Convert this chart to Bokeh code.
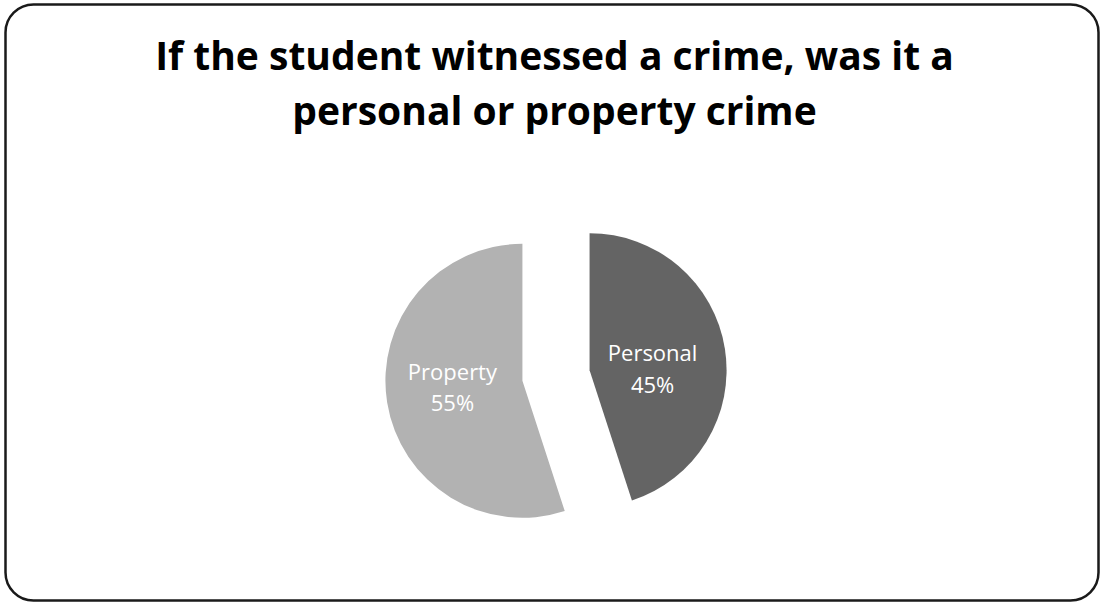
import math
from bokeh.plotting import figure
from bokeh.models import Range1d, BoxAnnotation, ColumnDataSource
from bokeh.core.properties import value
from bokeh.embed import file_html
from bokeh.resources import INLINE

# ---- data ----
title_lines = ["If the student witnessed a crime, was it a",
               "personal or property crime"]
categories = ["Personal", "Property"]
percents = [45, 55]
colors = ["#646464", "#b2b2b2"]

W, H = 1102, 602
p = figure(width=W, height=H, output_backend="svg", toolbar_location=None,
           x_range=Range1d(0, W), y_range=Range1d(0, H), min_border=0,
           background_fill_color="white", border_fill_color="white")
p.axis.visible = False
p.grid.visible = False
p.outline_line_color = None

# rounded frame
frame = BoxAnnotation(left=5, right=1098, bottom=H - 600, top=H - 4,
                      fill_color=None, fill_alpha=0, line_color="#1a1a1a",
                      line_alpha=1.0, line_width=2.5, border_radius=28)
p.add_layout(frame)

# title
for i, t in enumerate(title_lines):
    p.text(x=[554], y=[H - (54 + 55 * i)], text=[t], text_align="center",
           text_baseline="middle", text_font=value("Open Sans"),
           text_font_style="bold", text_font_size="39px", text_color="#000000")

# pie
cx, cy = 555.5, H - 375
r = 137
explode = 34
total = sum(percents)
start = 90.0
xs, ys, sa, ea = [], [], [], []
nx, ny, px_, py_, names, pcts = [], [], [], [], [], []
label_dx = [63, -70]
name_dy = [18.5, 9.5]
pct_dy = [-13.5, -21.5]
for i, (c, v) in enumerate(zip(categories, percents)):
    sweep = 360.0 * v / total
    end = start - sweep
    mid = math.radians((start + end) / 2)
    ox = cx + explode * math.cos(mid)
    oy = cy + explode * math.sin(mid)
    xs.append(ox); ys.append(oy)
    sa.append(math.radians(start)); ea.append(math.radians(end))
    nx.append(ox + label_dx[i]); ny.append(oy + name_dy[i])
    px_.append(ox + label_dx[i]); py_.append(oy + pct_dy[i])
    names.append(c); pcts.append(f"{v}%")
    start = end

src = ColumnDataSource(dict(x=xs, y=ys, sa=sa, ea=ea, color=colors,
                            nx=nx, ny=ny, px=px_, py=py_, name=names, pct=pcts))
p.wedge(x="x", y="y", radius=r, start_angle="sa", end_angle="ea",
        direction="clock", fill_color="color", line_color=None, source=src)
for tx, ty, tt in (("nx", "ny", "name"), ("px", "py", "pct")):
    p.text(x=tx, y=ty, text=tt, source=src, text_align="center",
           text_baseline="middle", text_font=value("Open Sans"),
           text_font_size="22px", text_color="white")

open("out.html", "w").write(file_html(p, INLINE))
